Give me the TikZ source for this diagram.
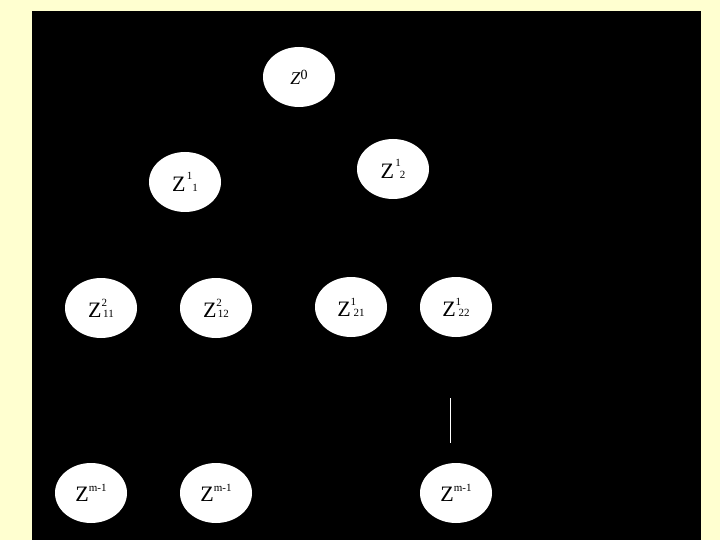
\documentclass[tikz,border=0pt]{standalone}
\usepackage{fontspec}
\setmainfont{Liberation Serif}
\usetikzlibrary{shapes.geometric}
\definecolor{bgyellow}{RGB}{255,255,208}
\newcommand{\smallfs}[1]{{\fontsize{11}{11}\selectfont #1}}
% #1 superscript, #2 subscript, #3 kern before subscript, #4 raise of superscript, #5 kern before superscript
\newcommand{\zlab}[5]{Z\rlap{\kern#5\raisebox{#4}{\smallfs{#1}}}\kern#3\smallfs{#2}}
\begin{document}
\begin{tikzpicture}[x=1pt,y=-1pt,
  zell/.style={ellipse, fill=white, draw=none, minimum width=72pt, minimum height=60pt, inner sep=0pt, font=\fontsize{22}{22}\selectfont},
  conn/.style={draw=white, line width=1pt}]
\useasboundingbox (0,0) rectangle (720,540);
\fill[bgyellow] (0,0) rectangle (720,540);
\fill[black] (32,11) rectangle (701,540);

\node[zell] (z0) at (299,77) {{\fontsize{18}{18}\selectfont\itshape Z}\raisebox{5pt}{\fontsize{14}{14}\selectfont 0}};

\node[zell] (z11) at (185,182) {\zlab{1}{1}{7pt}{12.5pt}{1.5pt}};
\node[zell] (z12) at (393,169) {\zlab{1}{2}{6pt}{12.5pt}{1.5pt}};

\node[zell] (z211) at (101,308) {\zlab{2}{11}{1.5pt}{11pt}{0pt}};
\node[zell] (z212) at (216,308) {\zlab{2}{12}{1.5pt}{11pt}{0pt}};
\node[zell] (z121) at (351,307) {\zlab{1}{21}{3pt}{11pt}{0pt}};
\node[zell] (z122) at (456,307) {\zlab{1}{22}{3pt}{11pt}{0pt}};

\node[zell] (zm1) at (91,493) {Z\raisebox{10pt}{\smallfs{m-1}}};
\node[zell] (zm2) at (216,493) {Z\raisebox{10pt}{\smallfs{m-1}}};
\node[zell] (zm3) at (456,493) {Z\raisebox{10pt}{\smallfs{m-1}}};

\coordinate (v1) at (450,398);
\coordinate (v2) at (450,443);
\draw[conn] (v1) -- (v2);
\end{tikzpicture}
\end{document}
